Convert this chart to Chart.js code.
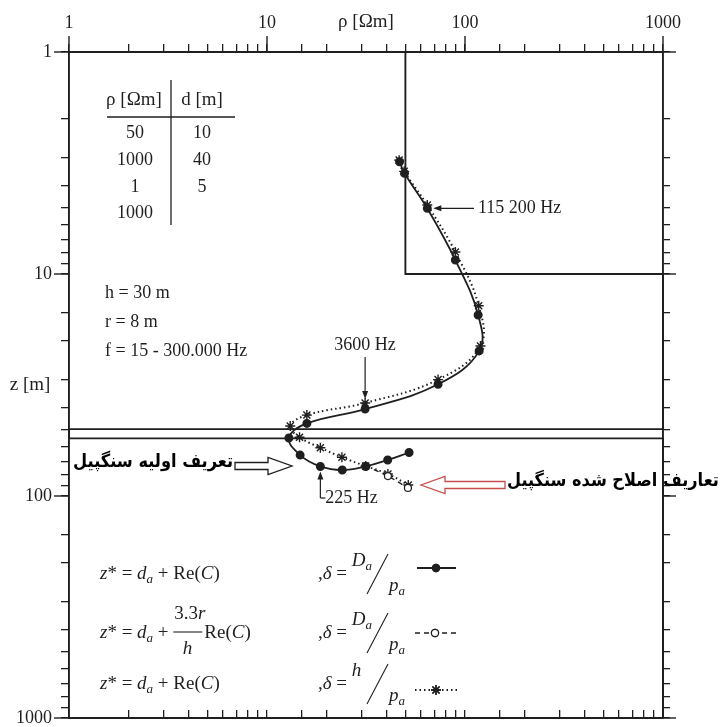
<!DOCTYPE html>
<html><head><meta charset="utf-8">
<script src="https://cdn.jsdelivr.net/npm/chart.js@4.4.1/dist/chart.umd.min.js"></script>
<style>html,body{margin:0;padding:0;background:#fff;}canvas{display:block;}</style>
</head><body>
<canvas id="c" width="728" height="727"></canvas>
<script>
// ---- data ----
const modelRho = [50, 1000, 1, 1000];      // layer resistivities (Ωm)
const modelThick = [10, 40, 5];            // layer thicknesses (m)
const xTickLabels = [1, 10, 100, 1000];
const yTickLabels = [1, 10, 100, 1000];

// solid line, filled dots: δ = Da/pa
const solidRho = [46.7, 49.5, 64.5, 89.4, 116.5, 117.9, 73.1, 31.3, 15.9, 12.9, 14.7, 18.6, 24.0, 31.5, 40.7, 52.2];
const solidZ   = [3.12, 3.52, 5.06, 8.65, 15.3, 22.2, 31.4, 40.6, 47.1, 54.8, 65.4, 73.6, 76.4, 73.6, 68.8, 63.7];
// dashed line, open circles: z* = da + 3.3r/h Re(C)
const circRho = [31.5, 40.8, 51.5];
const circZ   = [73.3, 81.3, 92.0];
// dotted line, asterisks: δ = h/pa
const starRho = [46.5, 49.3, 64.5, 89.4, 117.3, 119.7, 73.1, 31.3, 15.9, 13.1, 14.6, 18.6, 23.9, 31.5, 40.8, 51.7];
const starZ   = [3.07, 3.45, 4.89, 7.96, 13.9, 21.1, 29.9, 38.1, 43.2, 48.4, 54.4, 60.6, 66.9, 73.3, 79.6, 89.2];

// ---- build ----
const pts = (xs, ys) => xs.map((x, i) => ({x, y: ys[i]}));
const bounds = []; let acc = 0; modelThick.forEach(t => { acc += t; bounds.push(acc); });
const modelPts = [{x: modelRho[0], y: 1}];
bounds.forEach((b, i) => { modelPts.push({x: modelRho[i], y: b}); modelPts.push({x: modelRho[i + 1], y: b}); });
modelPts.push({x: modelRho[modelRho.length - 1], y: 1000});

const ink = '#1f1f1f';
const serif = '"Liberation Serif","Times New Roman",serif';
const arab = '"DejaVu Sans Condensed","DejaVu Sans","Noto Sans",sans-serif';
const isPow10 = v => { const l = Math.log10(v); return Math.abs(l - Math.round(l)) < 1e-6; };
const fixBox = (w, h) => s => {
  if (w !== null) s.width = w;
  if (h !== null) s.height = h;
  s.paddingTop = 0; s.paddingBottom = 0; s.paddingLeft = 0; s.paddingRight = 0;
};
const gridOpt = tl => ({drawOnChartArea: false, drawTicks: true, tickLength: tl, color: ink, lineWidth: 1.3});
const borderOpt = {display: true, color: ink, width: 1.9};

function rich(ctx, segs, x, y, size) {
  let cx = x;
  segs.forEach(([t, it, dy = 0, sc = 1]) => {
    ctx.font = (it ? 'italic ' : '') + Math.round(size * sc) + 'px ' + serif;
    ctx.textBaseline = 'alphabetic'; ctx.textAlign = 'left';
    ctx.fillText(t, cx, y + dy);
    cx += ctx.measureText(t).width;
  });
  return cx;
}
function txt(ctx, s, x, y, size, align = 'left', font = serif, weight = '') {
  ctx.font = (weight ? weight + ' ' : '') + size + 'px ' + font;
  ctx.textAlign = align; ctx.textBaseline = 'middle'; ctx.fillText(s, x, y);
}
function fitTxt(ctx, s, x, y, width, align, font, weight) {
  ctx.font = weight + ' 20px ' + font;
  const w = ctx.measureText(s).width;
  const size = 20 * width / w;
  txt(ctx, s, x, y, size.toFixed(2), align, font, weight);
}
function line(ctx, x1, y1, x2, y2, lw = 1.2, dash = []) {
  ctx.save(); ctx.lineWidth = lw; ctx.setLineDash(dash); ctx.beginPath(); ctx.moveTo(x1, y1); ctx.lineTo(x2, y2); ctx.stroke(); ctx.restore();
}
function head(ctx, x, y, dir) { // filled small arrowhead, tip at x,y
  ctx.beginPath();
  if (dir === 'left') { ctx.moveTo(x, y); ctx.lineTo(x + 8, y - 3); ctx.lineTo(x + 8, y + 3); }
  if (dir === 'down') { ctx.moveTo(x, y); ctx.lineTo(x - 3, y - 8); ctx.lineTo(x + 3, y - 8); }
  if (dir === 'up')   { ctx.moveTo(x, y); ctx.lineTo(x - 3, y + 8); ctx.lineTo(x + 3, y + 8); }
  ctx.closePath(); ctx.fill();
}
function hollow(ctx, tailX, tipX, y, color) {
  const d = tipX > tailX ? 1 : -1, hb = tipX - d * 24, bh = 3.5, hh = 8.5;
  ctx.save(); ctx.strokeStyle = color; ctx.fillStyle = '#fff'; ctx.lineWidth = 1.3;
  ctx.beginPath();
  ctx.moveTo(tailX, y - bh); ctx.lineTo(hb, y - bh); ctx.lineTo(hb, y - hh); ctx.lineTo(tipX, y);
  ctx.lineTo(hb, y + hh); ctx.lineTo(hb, y + bh); ctx.lineTo(tailX, y + bh); ctx.closePath();
  ctx.fill(); ctx.stroke(); ctx.restore();
}

const decor = {
  id: 'decor',
  afterDraw(chart) {
    const ctx = chart.ctx, sx = chart.scales.x, sy = chart.scales.y, a = chart.chartArea;
    ctx.save(); ctx.strokeStyle = ink; ctx.fillStyle = ink;
    // major tick extensions
    xTickLabels.forEach(v => { const p = sx.getPixelForValue(v); line(ctx, p, a.top, p, a.top - 16, 1.4); });
    yTickLabels.forEach(v => { const p = sy.getPixelForValue(v); line(ctx, a.left, p, a.left - 15, p, 1.4); line(ctx, a.right, p, a.right + 13, p, 1.4); });
    // axis titles
    txt(ctx, 'ρ [Ωm]', (a.left + a.right) / 2, 22, 19, 'center');
    txt(ctx, 'z [m]', 30, (a.top + a.bottom) / 2, 19, 'center');
    // model table
    txt(ctx, 'ρ [Ωm]', 134, 100, 19, 'center');
    txt(ctx, 'd [m]', 202, 100, 19, 'center');
    line(ctx, 107, 117, 235, 117, 1.3);
    line(ctx, 171, 80, 171, 225, 1.3);
    const rowY = [133, 160, 187, 213];
    modelRho.forEach((r, i) => txt(ctx, String(r), 135, rowY[i], 18, 'center'));
    modelThick.forEach((t, i) => txt(ctx, String(t), 202, rowY[i], 18, 'center'));
    txt(ctx, 'h = 30 m', 105, 293, 18);
    txt(ctx, 'r = 8 m', 105, 322, 18);
    txt(ctx, 'f = 15 - 300.000 Hz', 105, 351, 18);
    // annotations
    const px = (v) => sx.getPixelForValue(v), py = (v) => sy.getPixelForValue(v);
    const a1x = px(solidRho[2]) + 6, a1y = py(solidZ[2]);
    line(ctx, a1x + 6, a1y, 474, a1y, 1.2); head(ctx, a1x, a1y, 'left');
    txt(ctx, '115 200 Hz', 478, a1y, 18);
    const a2x = px(starRho[7]), a2y = py(starZ[7]) - 4;
    txt(ctx, '3600 Hz', a2x, 345, 18, 'center');
    line(ctx, a2x, 357, a2x, a2y - 6, 1.2); head(ctx, a2x, a2y, 'down');
    const a3x = px(solidRho[11]), a3y = py(solidZ[11]) + 5;
    line(ctx, a3x, a3y + 6, a3x, 498, 1.2); line(ctx, a3x, 498, a3x + 5, 498, 1.2); head(ctx, a3x, a3y, 'up');
    txt(ctx, '225 Hz', a3x + 5, 498, 18);
    // hollow arrows + Persian labels
    hollow(ctx, 235, 292, 466, ink);
    ctx.fillStyle = '#000';
    fitTxt(ctx, 'تعریف اولیه سنگپیل', 233, 462, 160, 'right', arab, 'bold');
    hollow(ctx, 505, 421, 485, '#c2504e');
    ctx.fillStyle = '#000';
    fitTxt(ctx, 'تعاریف اصلاح شده سنگپیل', 507, 481, 212, 'left', arab, 'bold');
    ctx.fillStyle = ink;
    // formulas
    const fs = 19;
    const zPart = (y) => rich(ctx, [['z', 1], ['*', 0], [' = ', 0], ['d', 1], ['a', 1, 4, 0.68], [' + ', 0]], 100, y, fs);
    let cx = zPart(579); rich(ctx, [['Re(', 0], ['C', 1], [')', 0]], cx, 579, fs);
    cx = zPart(638);
    const numW = 27;
    rich(ctx, [['3.3', 0], ['r', 1]], cx + 1, 619, fs);
    line(ctx, cx, 632, cx + numW + 2, 632, 1.1);
    rich(ctx, [['h', 1]], cx + numW / 2 - 4, 654, fs);
    rich(ctx, [['Re(', 0], ['C', 1], [')', 0]], cx + numW + 4, 638, fs);
    cx = zPart(689); rich(ctx, [['Re(', 0], ['C', 1], [')', 0]], cx, 689, fs);
    const delta = (y0, numSegs) => {
      const e = rich(ctx, [[',', 0], ['δ', 1], [' = ', 0]], 318, y0 + 6, fs);
      rich(ctx, numSegs, e, y0 - 7, fs);
      line(ctx, 367, y0 + 21, 388, y0 - 19, 1.1);
      rich(ctx, [['p', 1], ['a', 1, 4, 0.68]], 389, y0 + 18, fs);
    };
    delta(573, [['D', 1], ['a', 1, 4, 0.68]]);
    delta(632, [['D', 1], ['a', 1, 4, 0.68]]);
    delta(683, [['h', 1]]);
    // legend samples
    const dp = (Chart.helpers && Chart.helpers.drawPoint) ? Chart.helpers.drawPoint : null;
    ctx.strokeStyle = ink;
    line(ctx, 417, 568, 456, 568, 1.8);
    line(ctx, 415, 633, 458, 633, 1.4, [5, 4]);
    line(ctx, 415, 690, 458, 690, 1.8, [1.5, 3]);
    if (dp) {
      ctx.fillStyle = ink; ctx.lineWidth = 1.2;
      dp(ctx, {pointStyle: 'circle', radius: 3.6, rotation: 0, borderWidth: 1}, 436, 568); ctx.fill(); ctx.stroke();
      ctx.fillStyle = '#fff';
      dp(ctx, {pointStyle: 'circle', radius: 3.6, rotation: 0, borderWidth: 1}, 435, 633); ctx.fill(); ctx.stroke();
      ctx.lineWidth = 1.4;
      dp(ctx, {pointStyle: 'star', radius: 5, rotation: 0, borderWidth: 1.4}, 436, 690); ctx.stroke();
    }
    ctx.restore();
  }
};

new Chart(document.getElementById('c'), {
  type: 'scatter',
  data: {datasets: [
    {data: modelPts, showLine: true, borderColor: ink, borderWidth: 1.9, pointRadius: 0, tension: 0, clip: false},
    {data: pts(solidRho, solidZ), showLine: true, borderColor: ink, borderWidth: 1.8, pointRadius: 3.6,
     pointBackgroundColor: ink, pointBorderColor: ink, tension: 0.4},
    {data: pts(circRho, circZ), showLine: true, borderColor: ink, borderWidth: 1.3, borderDash: [5, 4], pointRadius: 3.5,
     pointBackgroundColor: '#fff', pointBorderColor: ink, pointBorderWidth: 1.2, tension: 0.3},
    {data: pts(starRho, starZ), showLine: true, borderColor: ink, borderWidth: 2, borderDash: [1.5, 3], pointStyle: 'star',
     pointRadius: 5, pointBorderColor: ink, pointBorderWidth: 1.4, tension: 0.4}
  ]},
  options: {
    responsive: false, animation: false, events: [],
    layout: {padding: 0},
    plugins: {legend: {display: false}, tooltip: {enabled: false}},
    scales: {
      x: {type: 'logarithmic', axis: 'x', position: 'top', min: 1, max: 1000, afterFit: fixBox(null, 52),
          ticks: {autoSkip: false, maxRotation: 0, padding: 10, color: ink, font: {family: serif, size: 18},
                  callback: v => isPow10(v) ? String(Math.round(v)) : ''},
          grid: gridOpt(8), border: borderOpt},
      xb: {type: 'logarithmic', axis: 'x', position: 'bottom', min: 1, max: 1000, afterFit: fixBox(null, 9),
           ticks: {display: false, autoSkip: false}, grid: gridOpt(-8), border: borderOpt},
      y: {type: 'logarithmic', axis: 'y', position: 'left', reverse: true, min: 1, max: 1000, afterFit: fixBox(69, null),
          ticks: {autoSkip: false, padding: 9, color: ink, font: {family: serif, size: 18},
                  callback: v => isPow10(v) ? String(Math.round(v)) : ''},
          grid: gridOpt(8), border: borderOpt},
      yr: {type: 'logarithmic', axis: 'y', position: 'right', reverse: true, min: 1, max: 1000, afterFit: fixBox(65, null),
           ticks: {display: false, autoSkip: false}, grid: gridOpt(7), border: borderOpt}
    }
  },
  plugins: [decor]
});
</script>
</body></html>
